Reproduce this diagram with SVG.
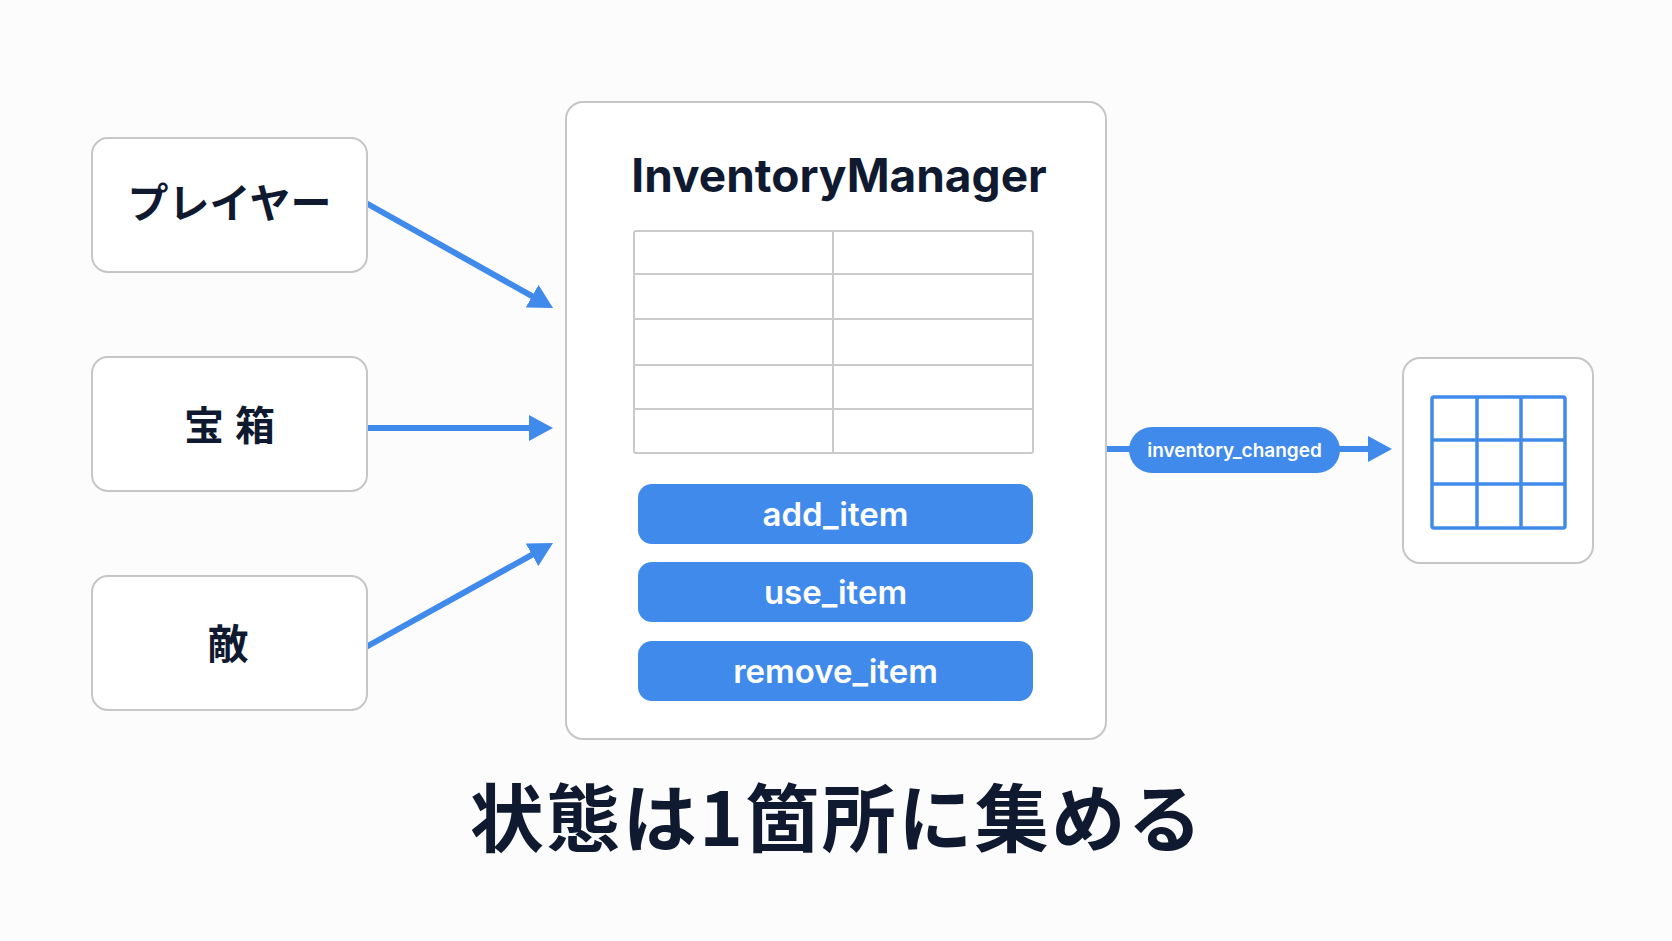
<svg xmlns="http://www.w3.org/2000/svg" width="1672" height="941" viewBox="0 0 1672 941">
<style>
.box{fill:#ffffff;stroke:#c6c6c8;stroke-width:2}
.jp{font-family:"Noto Sans CJK JP","Noto Sans",sans-serif;font-weight:700;fill:#0f1a30;text-anchor:middle}
.lat{font-family:Inter,"Noto Sans","Liberation Sans",sans-serif;text-anchor:middle}
.cell{fill:none;stroke:#cacacc;stroke-width:2}
.btn{fill:#408aec}
.btxt{font-family:Inter,"Noto Sans","Liberation Sans",sans-serif;font-weight:600;fill:#ffffff;text-anchor:middle;font-size:33px}
.conn{stroke:#408aec;stroke-width:6;fill:none}
.grid{fill:none;stroke:#408aec;stroke-width:3.5}
</style>
<defs>
<marker id="ah" markerUnits="userSpaceOnUse" markerWidth="26" markerHeight="26" refX="4" refY="13" orient="auto" viewBox="0 0 26 26">
<path d="M0,0 L24,13 L0,26 z" fill="#408aec"/>
</marker>
</defs>
<rect x="0" y="0" width="1672" height="941" fill="#fcfcfc"/>

<g id="connectors">
<line class="conn" x1="366" y1="203" x2="535.6" y2="298.1" marker-end="url(#ah)"/>
<line class="conn" x1="366" y1="428" x2="533" y2="428" marker-end="url(#ah)"/>
<line class="conn" x1="366" y1="647" x2="535.5" y2="552.8" marker-end="url(#ah)"/>
<line class="conn" x1="1106" y1="449" x2="1372" y2="449" marker-end="url(#ah)"/>
</g>

<g id="node-player">
<rect class="box" x="92" y="138" width="275" height="134" rx="16"/>
<text class="jp" x="229.5" y="218" font-size="41">プレイヤー</text>
</g>

<g id="node-chest">
<rect class="box" x="92" y="357" width="275" height="134" rx="16"/>
<text class="jp" x="235" y="440" font-size="40" letter-spacing="11">宝箱</text>
</g>

<g id="node-enemy">
<rect class="box" x="92" y="576" width="275" height="134" rx="16"/>
<text class="jp" x="228" y="659" font-size="41">敵</text>
</g>

<g id="node-manager">
<rect class="box" x="566" y="102" width="540" height="637" rx="17"/>
<text class="lat" x="839" y="192" font-size="46" font-weight="700" fill="#0f1a30">InventoryManager</text>
<g id="table">
<rect class="cell" x="634" y="231" width="399" height="222" rx="2"/>
<line class="cell" x1="833" y1="231" x2="833" y2="453"/>
<line class="cell" x1="634" y1="274" x2="1033" y2="274"/>
<line class="cell" x1="634" y1="319" x2="1033" y2="319"/>
<line class="cell" x1="634" y1="365" x2="1033" y2="365"/>
<line class="cell" x1="634" y1="409" x2="1033" y2="409"/>
</g>
<g id="btn-add">
<rect class="btn" x="638" y="484" width="395" height="60" rx="14"/>
<text class="btxt" x="835.5" y="526">add_item</text>
</g>
<g id="btn-use">
<rect class="btn" x="638" y="562" width="395" height="60" rx="14"/>
<text class="btxt" x="835.5" y="604">use_item</text>
</g>
<g id="btn-remove">
<rect class="btn" x="638" y="641" width="395" height="60" rx="14"/>
<text class="btxt" x="835.5" y="683">remove_item</text>
</g>
</g>

<g id="signal-label">
<rect x="1129" y="427" width="211" height="46" rx="23" fill="#408aec"/>
<text class="lat" x="1234.5" y="456.5" font-size="19" font-weight="600" fill="#ffffff">inventory_changed</text>
</g>

<g id="node-ui">
<rect class="box" x="1403" y="358" width="190" height="205" rx="17"/>
<rect class="grid" x="1432" y="397" width="133" height="131" rx="2"/>
<line class="grid" x1="1477" y1="397" x2="1477" y2="528"/>
<line class="grid" x1="1521" y1="397" x2="1521" y2="528"/>
<line class="grid" x1="1432" y1="440" x2="1565" y2="440"/>
<line class="grid" x1="1432" y1="484" x2="1565" y2="484"/>
</g>

<g id="caption">
<text class="jp" x="837" y="846" font-size="74" letter-spacing="2.5">状態は1箇所に集める</text>
</g>
</svg>
